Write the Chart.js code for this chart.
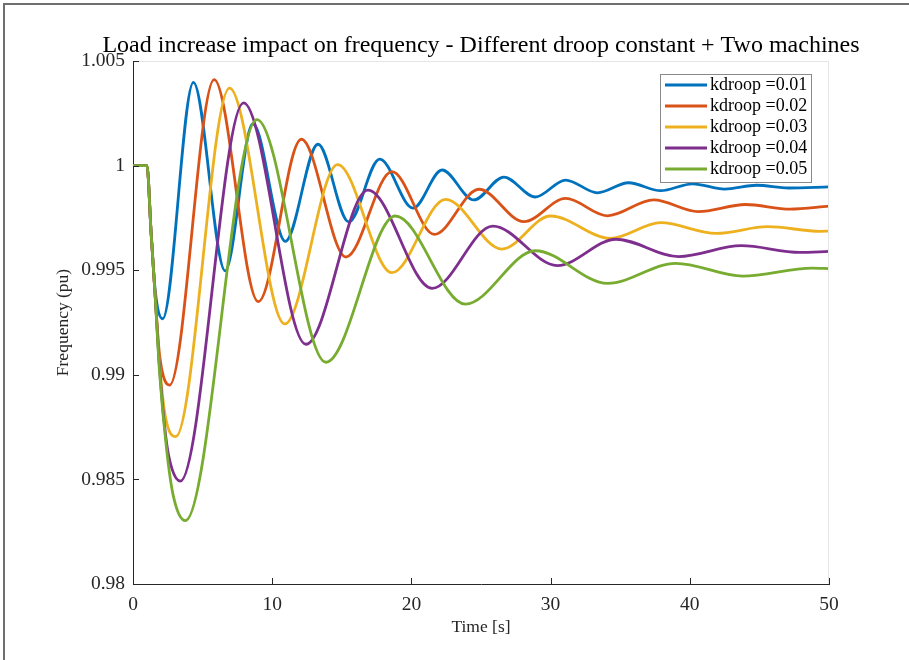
<!DOCTYPE html>
<html>
<head>
<meta charset="utf-8">
<title>Load increase impact on frequency</title>
<script src="https://cdn.jsdelivr.net/npm/chart.js@4.4.1/dist/chart.umd.min.js"></script>
<style>
  html, body { margin: 0; padding: 0; background: #fff; }
  #lienzo { display: block; }
</style>
</head>
<body>
<canvas id="lienzo" width="909" height="660"></canvas>
<script>
// Respuesta de frecuencia (pu) frente al tiempo (s), un vector por constante de droop
const titulo = 'Load increase impact on frequency - Different droop constant + Two machines';
const etiquetas = ['kdroop =0.01', 'kdroop =0.02', 'kdroop =0.03', 'kdroop =0.04', 'kdroop =0.05'];
const colores = ['#0072BD', '#D95319', '#EDB120', '#7E2F8E', '#77AC30'];

const tiempo01 = [0, 1, 1.3, 1.6, 2.13, 4.34, 6.62, 8.61, 10.94, 13.29, 15.5, 17.72, 20.12, 22.2, 24.48, 26.64, 28.9, 31.08, 33.36, 35.6, 37.9, 40.2, 42.5, 44.8, 47.1, 50];
const frec01   = [1, 1, 0.9968, 0.9940, 0.99268, 1.00398, 0.99497, 1.0020, 0.99638, 1.00102, 0.99731, 1.00031, 0.99797, 0.99979, 0.99836, 0.99945, 0.9985, 0.99931, 0.9987, 0.99918, 0.9988, 0.99913, 0.99888, 0.99906, 0.99893, 0.99898];

const tiempo02 = [0, 1, 1.3, 1.6, 1.9, 2.63, 5.83, 9.0, 12.09, 15.3, 18.6, 21.65, 24.85, 28.08, 31.08, 34.08, 37.4, 40.6, 44.0, 47.2, 50];
const frec02   = [1, 1, 0.9968, 0.9937, 0.9910, 0.98951, 1.00411, 0.9935, 1.00126, 0.99563, 0.99971, 0.99671, 0.99887, 0.99732, 0.99843, 0.9976, 0.99836, 0.9978, 0.99814, 0.99792, 0.99806];

const tiempo03 = [0, 1, 1.3, 1.6, 1.9, 2.3, 3.07, 6.93, 10.9, 14.7, 18.6, 22.45, 26.5, 30.0, 34.3, 37.9, 41.9, 45.6, 49.4, 50];
const frec03   = [1, 1, 0.9968, 0.9937, 0.9906, 0.9881, 0.98704, 1.0037, 0.99243, 1.00005, 0.99488, 0.99839, 0.99601, 0.99759, 0.99652, 0.99727, 0.99676, 0.99708, 0.99686, 0.99687];

const tiempo04 = [0, 1, 1.3, 1.6, 1.9, 2.4, 2.8, 3.4, 7.94, 12.42, 16.88, 21.49, 25.85, 30.48, 34.7, 39.2, 43.7, 47.9, 50];
const frec04   = [1, 1, 0.9968, 0.9937, 0.9904, 0.9868, 0.9855, 0.98492, 1.003, 0.99146, 0.99883, 0.99413, 0.99711, 0.99522, 0.99648, 0.99565, 0.99617, 0.99585, 0.9959];

const tiempo05 = [0, 1, 1.3, 1.6, 1.9, 2.42, 2.9, 3.76, 8.9, 13.86, 18.85, 23.88, 28.9, 34.1, 39.0, 43.8, 48.8, 50];
const frec05   = [1, 1, 0.9968, 0.9937, 0.9902, 0.9864, 0.9842, 0.98303, 1.0022, 0.9906, 0.99759, 0.99338, 0.99593, 0.99437, 0.99533, 0.99472, 0.9951, 0.99508];

const ticksX = [0, 10, 20, 30, 40, 50];
const ticksY = [0.98, 0.985, 0.99, 0.995, 1, 1.005];
const textoTicksY = ['0.98', '0.985', '0.99', '0.995', '1', '1.005'];

const tiempos = [tiempo01, tiempo02, tiempo03, tiempo04, tiempo05];
const frecuencias = [frec01, frec02, frec03, frec04, frec05];

const fuente = 'Liberation Serif, Times New Roman, serif';

// marco de la figura, titulo, caja de ejes, ticks hacia dentro y leyenda
const adornos = {
    id: 'adornos',
    beforeDraw(chart) {
        const ctx = chart.ctx;
        const a = chart.chartArea;
        ctx.save();
        ctx.strokeStyle = '#6e6e6e';
        ctx.lineWidth = 2;
        ctx.beginPath();
        ctx.moveTo(4, 660);
        ctx.lineTo(4, 4);
        ctx.lineTo(909, 4);
        ctx.stroke();

        // el titulo va centrado sobre los ejes y puede salirse de ellos
        ctx.font = '24px ' + fuente;
        ctx.fillStyle = '#000';
        ctx.textAlign = 'center';
        ctx.textBaseline = 'alphabetic';
        ctx.fillText(titulo, (a.left + a.right) / 2, 52);
        ctx.restore();
    },
    afterDatasetsDraw(chart) {
        const ctx = chart.ctx;
        const a = chart.chartArea;
        const x = chart.scales.x;
        const y = chart.scales.y;
        ctx.save();

        ctx.strokeStyle = '#e4e4e4';
        ctx.lineWidth = 1;
        ctx.beginPath();
        ctx.moveTo(a.left, a.top + 0.5);
        ctx.lineTo(a.right - 0.5, a.top + 0.5);
        ctx.lineTo(a.right - 0.5, a.bottom);
        ctx.stroke();

        ctx.strokeStyle = '#262626';
        ctx.beginPath();
        x.ticks.forEach(t => {
            const px = Math.round(x.getPixelForValue(t.value)) + 0.5;
            ctx.moveTo(px, a.bottom);
            ctx.lineTo(px, a.bottom - 6);
        });
        y.ticks.forEach(t => {
            const py = Math.round(y.getPixelForValue(t.value)) + 0.5;
            ctx.moveTo(a.left, py);
            ctx.lineTo(a.left + 6, py);
        });
        ctx.stroke();

        // leyenda
        const ancho = 152, paso = 21;
        const lx = a.right - 17, ly = a.top + 13;
        const alto = chart.data.datasets.length * paso + 4;
        ctx.fillStyle = '#ffffff';
        ctx.fillRect(lx - ancho, ly, ancho, alto);
        ctx.strokeStyle = '#8a8a8a';
        ctx.strokeRect(lx - ancho + 0.5, ly + 0.5, ancho - 1, alto - 1);
        ctx.font = '18px ' + fuente;
        ctx.textBaseline = 'middle';
        ctx.fillStyle = '#000';
        chart.data.datasets.forEach((ds, i) => {
            const cy = ly + 11 + i * paso;
            ctx.strokeStyle = ds.borderColor;
            ctx.lineWidth = 2.8;
            ctx.beginPath();
            ctx.moveTo(lx - ancho + 5, cy);
            ctx.lineTo(lx - ancho + 47, cy);
            ctx.stroke();
            ctx.fillText(ds.label, lx - ancho + 50, cy);
        });
        ctx.restore();
    }
};

const contexto = document.getElementById('lienzo').getContext('2d');
const grafico = new Chart(contexto, {
    type: 'line',
    data: {
        datasets: etiquetas.map((nombre, i) => ({
            label: nombre,
            data: tiempos[i].map((t, k) => ({ x: t, y: frecuencias[i][k] })),
            borderColor: colores[i],
            borderWidth: 2.8,
            pointRadius: 0,
            fill: false,
            cubicInterpolationMode: 'monotone',
            borderJoinStyle: 'round',
            order: etiquetas.length - i
        }))
    },
    options: {
        responsive: false,
        animation: false,
        devicePixelRatio: 1,
        layout: { padding: { left: 0, top: 61, right: 80, bottom: 0 } },
        plugins: {
            legend: { display: false },
            tooltip: { enabled: false },
            title: { display: false }
        },
        scales: {
            x: {
                type: 'linear',
                min: 0,
                max: 50,
                afterBuildTicks: s => { s.ticks = ticksX.map(v => ({ value: v })); },
                afterFit: s => { s.height = 76; },
                grid: { display: false, drawTicks: false },
                border: { color: '#262626', width: 1 },
                ticks: { color: '#262626', padding: 9, maxRotation: 0, font: { family: fuente, size: 19.5 } },
                title: {
                    display: true,
                    text: 'Time [s]',
                    color: '#262626',
                    font: { family: fuente, size: 17.5 },
                    padding: { bottom: 22 }
                }
            },
            y: {
                type: 'linear',
                min: 0.98,
                max: 1.005,
                afterBuildTicks: s => { s.ticks = ticksY.map(v => ({ value: v })); },
                afterFit: s => { s.width = 133; },
                grid: { display: false, drawTicks: false },
                border: { color: '#262626', width: 1 },
                ticks: {
                    color: '#262626',
                    padding: 8,
                    font: { family: fuente, size: 19.5 },
                    callback: (v, i) => textoTicksY[i]
                },
                title: {
                    display: true,
                    text: 'Frequency (pu)',
                    color: '#262626',
                    font: { family: fuente, size: 17.5 },
                    padding: { top: 53 }
                }
            }
        }
    },
    plugins: [adornos]
});
</script>
</body>
</html>
